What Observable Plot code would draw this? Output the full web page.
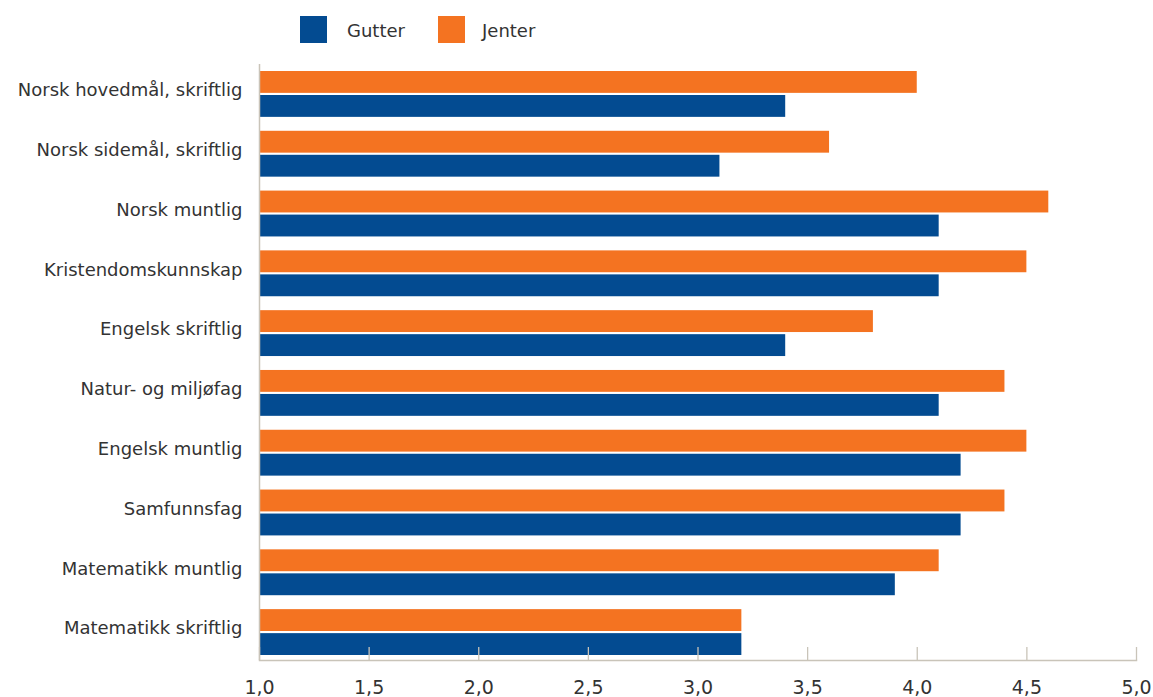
<!DOCTYPE html>
<html>
<head>
<meta charset="utf-8">
<script src="https://cdn.jsdelivr.net/npm/d3@7"></script>
<script src="https://cdn.jsdelivr.net/npm/@observablehq/plot@0.6"></script>
<style>
  html, body { margin: 0; padding: 0; background: #fff; }
  body { width: 1153px; height: 697px; overflow: hidden; font-family: "DejaVu Sans", sans-serif; color: #333; }
  .legend { position: relative; height: 60px; }
  .legend .sw { position: absolute; top: 16px; width: 27px; height: 27px; }
  .legend .lb { position: absolute; top: 20px; font-size: 18px; line-height: normal; }
</style>
</head>
<body>
<div class="legend">
  <div class="sw" style="left:300px;background:#034b91"></div>
  <div class="lb" style="left:347px">Gutter</div>
  <div class="sw" style="left:438px;background:#f47321"></div>
  <div class="lb" style="left:482px">Jenter</div>
</div>
<div id="chart"></div>
<script>
// Karaktersnitt per fag, gutter og jenter
const subjects = [
  "Norsk hovedmål, skriftlig",
  "Norsk sidemål, skriftlig",
  "Norsk muntlig",
  "Kristendomskunnskap",
  "Engelsk skriftlig",
  "Natur- og miljøfag",
  "Engelsk muntlig",
  "Samfunnsfag",
  "Matematikk muntlig",
  "Matematikk skriftlig"
];
const gutter = [3.4, 3.1, 4.1, 4.1, 3.4, 4.1, 4.2, 4.2, 3.9, 3.2];
const jenter = [4.0, 3.6, 4.6, 4.5, 3.8, 4.4, 4.5, 4.4, 4.1, 3.2];
const xTicks = [1, 1.5, 2, 2.5, 3, 3.5, 4, 4.5, 5];

const colors = { Gutter: "#034b91", Jenter: "#f47321" };
const axisColor = "#c9c4b9";
const fmt = d => d.toFixed(1).replace(".", ",");

const rowsG = subjects.map((s, i) => ({ fag: s, verdi: gutter[i] }));
const rowsJ = subjects.map((s, i) => ({ fag: s, verdi: jenter[i] }));

const W = 1153, H = 637, mTop = 4, mBottom = 37;

const chart = Plot.plot({
  width: W,
  height: H,
  marginLeft: 259,
  marginRight: 17,
  marginTop: mTop,
  marginBottom: mBottom,
  style: { fontFamily: "DejaVu Sans, sans-serif", fontSize: "18px", color: "#333", background: "#fff", overflow: "visible" },
  x: { domain: [1, 5] },
  y: { type: "band", domain: subjects, range: [11, 595], paddingInner: 0.233, paddingOuter: 0, round: false },
  marks: [
    // jenter fills the upper half of each band, gutter the lower half
    Plot.barX(rowsJ, { y: "fag", x1: 1, x2: "verdi", fill: colors.Jenter, insetBottom: 24 }),
    Plot.barX(rowsG, { y: "fag", x1: 1, x2: "verdi", fill: colors.Gutter, insetTop: 24 }),
    // short inward tick marks standing on the baseline
    Plot.tickX(xTicks, { x: d => d, stroke: axisColor, strokeWidth: 1.3, insetTop: H - mTop - mBottom - 13 }),
    Plot.ruleX([1], { stroke: axisColor, strokeWidth: 1.5 }),
    Plot.frame({ anchor: "bottom", stroke: axisColor, strokeWidth: 1.5 }),
    Plot.axisX({ ticks: xTicks, tickFormat: fmt, tickSize: 0, tickPadding: 20, fontSize: 19, label: null, fill: "#333" }),
    Plot.axisY({ tickSize: 0, tickPadding: 17, fontSize: 18, label: null, dy: -4, fill: "#333" })
  ]
});
document.getElementById("chart").appendChild(chart);
</script>
</body>
</html>
